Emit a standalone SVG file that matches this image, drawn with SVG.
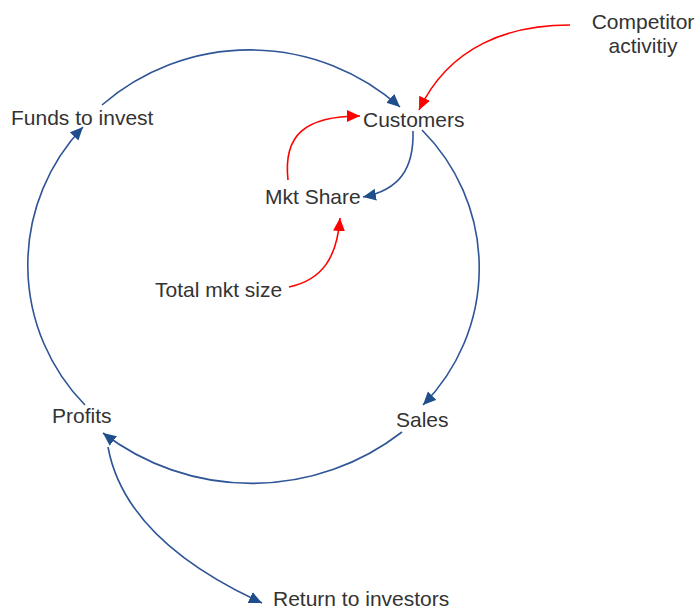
<svg xmlns="http://www.w3.org/2000/svg" width="699" height="610" viewBox="0 0 699 610">
  <style>
    .label { font-family: "Liberation Sans", Arial, sans-serif; font-size: 21px; fill: #333333; }
    .blue { fill: none; stroke: #2f5597; stroke-width: 1.6; marker-end: url(#arrowBlue); }
    .red { fill: none; stroke: #ff0000; stroke-width: 1.6; marker-end: url(#arrowRed); }
  </style>
  <defs>
    <marker id="arrowBlue" markerUnits="userSpaceOnUse" markerWidth="16" markerHeight="14" refX="13" refY="6" orient="auto">
      <path d="M0,0 L13,6 L0,12 Z" fill="#1f4e8c"/>
    </marker>
    <marker id="arrowRed" markerUnits="userSpaceOnUse" markerWidth="16" markerHeight="14" refX="13" refY="6" orient="auto">
      <path d="M0,0 L13,6 L0,12 Z" fill="#ff0000"/>
    </marker>
  </defs>

  <g id="connectors">
    <!-- main reinforcing loop -->
    <path class="blue" d="M102,105 A226,226 0 0,1 400,107"/>
    <path class="blue" d="M422,130 A195,195 0 0,1 423,405"/>
    <path class="blue" d="M402,432 A245,245 0 0,1 103,433"/>
    <path class="blue" d="M85,405 A200,200 0 0,1 83,127"/>
    <!-- outflow to investors -->
    <path class="blue" d="M108,447 Q125,540 262,603"/>
    <!-- customers to market share -->
    <path class="blue" d="M413,131 C414,168 400,190 363,197"/>
    <!-- external influences -->
    <path class="red" d="M288,180 C283,135 305,116 360,116"/>
    <path class="red" d="M289,287 C322,280 337,258 340,218"/>
    <path class="red" d="M570,25 C510,25 450,45 419,110"/>
  </g>

  <g id="funds"><text class="label" x="11" y="125">Funds to invest</text></g>
  <g id="customers"><text class="label" x="363" y="127">Customers</text></g>
  <g id="competitor">
    <text class="label" x="643" y="29" text-anchor="middle">Competitor</text>
    <text class="label" x="643" y="53" text-anchor="middle">activitiy</text>
  </g>
  <g id="mktshare"><text class="label" x="265" y="204">Mkt Share</text></g>
  <g id="totalmkt"><text class="label" x="155" y="297">Total mkt size</text></g>
  <g id="profits"><text class="label" x="52" y="423">Profits</text></g>
  <g id="sales"><text class="label" x="396" y="427">Sales</text></g>
  <g id="return"><text class="label" x="273" y="606">Return to investors</text></g>
</svg>
